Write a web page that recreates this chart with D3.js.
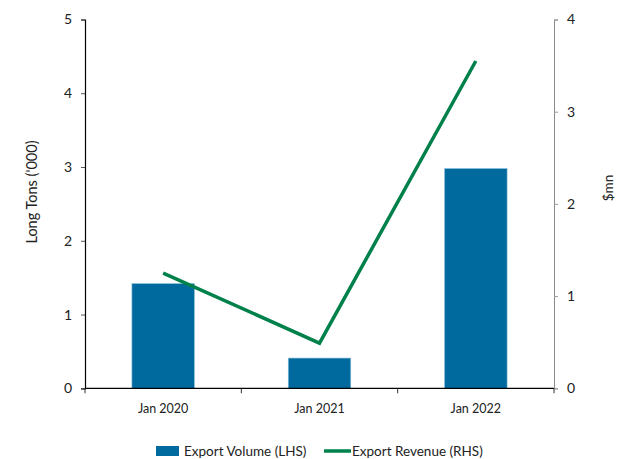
<!DOCTYPE html>
<html>
<head>
<meta charset="utf-8">
<script src="https://cdn.jsdelivr.net/npm/d3@7"></script>
<style>
  body { margin: 0; background: #fff; }
  svg { display: block; font-family: Lato, "Open Sans", sans-serif; }
</style>
</head>
<body>
<svg id="chart" width="618" height="459"></svg>
<script>
// Export volume (thousand long tons) and export revenue ($mn) by year
const categories = ["Jan 2020", "Jan 2021", "Jan 2022"];
const exportVolume = [1.42, 0.41, 2.98];
const exportRevenue = [1.25, 0.49, 3.55];
const leftTicks = [0, 1, 2, 3, 4, 5];
const rightTicks = [0, 1, 2, 3, 4];

const svg = d3.select("#chart");
const plot = { left: 85, right: 554, top: 19.5, bottom: 388.3 };

const xOuter = d3.scaleBand().domain(categories).range([plot.left, plot.right]);
const yL = d3.scaleLinear().domain([0, 5]).range([plot.bottom, plot.top]);
const yR = d3.scaleLinear().domain([0, 4]).range([plot.bottom, plot.top]);
const barWidth = xOuter.bandwidth() * 0.4;

// bars
svg.append("g").selectAll("rect").data(categories).join("rect")
  .attr("x", d => xOuter(d) + xOuter.bandwidth() / 2 - barWidth / 2)
  .attr("width", barWidth)
  .attr("y", (d, i) => yL(exportVolume[i]))
  .attr("height", (d, i) => plot.bottom - yL(exportVolume[i]))
  .attr("fill", "#006a9e")
  .attr("stroke", "#8fc3dd")
  .attr("stroke-width", 0.6);

// left axis
const gL = svg.append("g").attr("transform", `translate(${plot.left},0)`)
  .call(d3.axisLeft(yL).tickValues(leftTicks).tickSize(4).tickPadding(9).tickFormat(d3.format("d")));
gL.select(".domain").attr("stroke", "#000").attr("stroke-width", 1.2);
gL.selectAll(".tick line").attr("stroke", "#555");
gL.selectAll(".tick text").attr("font-size", 14).attr("fill", "#222").attr("font-family", "Lato, sans-serif");

// right axis
const gR = svg.append("g").attr("transform", `translate(${plot.right},0)`)
  .call(d3.axisRight(yR).tickValues(rightTicks).tickSize(4).tickPadding(9).tickFormat(d3.format("d")));
gR.select(".domain").attr("stroke", "#8a8a8a").attr("stroke-width", 1);
gR.selectAll(".tick line").attr("stroke", "#999");
gR.selectAll(".tick text").attr("font-size", 14).attr("fill", "#222").attr("font-family", "Lato, sans-serif");

// x axis
const gX = svg.append("g").attr("transform", `translate(0,${plot.bottom})`);
gX.append("line").attr("x1", plot.left).attr("x2", plot.right).attr("stroke", "#000").attr("stroke-width", 1.2);
const boundaries = categories.map(c => xOuter(c)).concat([plot.right]);
gX.selectAll("line.tk").data(boundaries).join("line").attr("class", "tk")
  .attr("x1", d => d).attr("x2", d => d).attr("y1", 0).attr("y2", 5).attr("stroke", "#333");
gX.selectAll("text").data(categories).join("text")
  .attr("x", d => xOuter(d) + xOuter.bandwidth() / 2)
  .attr("y", 25)
  .attr("text-anchor", "middle")
  .attr("font-size", 12.5).attr("fill", "#222")
  .text(d => d);

// revenue line
const line = d3.line()
  .x((d, i) => xOuter(categories[i]) + xOuter.bandwidth() / 2)
  .y(d => yR(d));
svg.append("path").datum(exportRevenue)
  .attr("d", line)
  .attr("fill", "none")
  .attr("stroke", "#00804a")
  .attr("stroke-width", 3.5)
  .attr("stroke-linejoin", "miter");

// axis titles
svg.append("text")
  .attr("transform", `translate(37,192) rotate(-90)`)
  .attr("text-anchor", "middle").attr("font-size", 14.5).attr("fill", "#222")
  .text("Long Tons ('000)");
svg.append("text")
  .attr("transform", `translate(613,188) rotate(-90)`)
  .attr("text-anchor", "middle").attr("font-size", 13.5).attr("fill", "#222")
  .text("$mn");

// legend
const lg = svg.append("g").attr("transform", "translate(0,451)");
lg.append("rect").attr("x", 156).attr("y", -5).attr("width", 23).attr("height", 10).attr("fill", "#006a9e");
lg.append("text").attr("x", 184).attr("y", 5).attr("font-size", 13.5).attr("fill", "#222").text("Export Volume (LHS)");
lg.append("line").attr("x1", 324).attr("x2", 351).attr("y1", 0).attr("y2", 0).attr("stroke", "#00804a").attr("stroke-width", 3.5);
lg.append("text").attr("x", 352).attr("y", 5).attr("font-size", 13.5).attr("fill", "#222").text("Export Revenue (RHS)");
</script>
</body>
</html>
